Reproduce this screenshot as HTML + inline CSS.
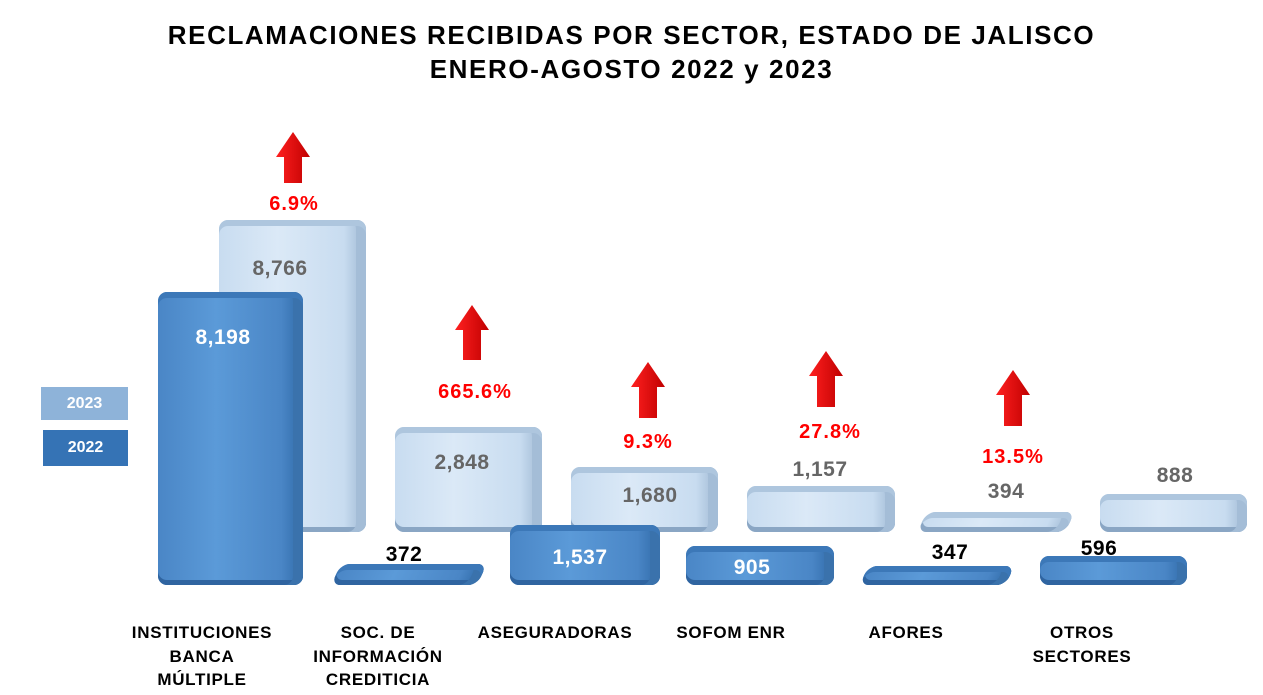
<!DOCTYPE html>
<html><head><meta charset="utf-8"><style>
body{margin:0;width:1263px;height:695px;background:#fff;position:relative;overflow:hidden;font-family:"Liberation Sans",sans-serif;font-weight:bold}
.t{position:absolute;left:0;width:1263px;text-align:center;font-size:26px;letter-spacing:1.6px;color:#000}
.b{position:absolute;border-radius:9px;box-sizing:border-box}
.d{background:linear-gradient(90deg,#4a86c6 0%,#5b9ad8 40%,#4a86c6 85%,#2f6aa8 100%);box-shadow:inset 0 6px 0 #3c78b8,inset -10px 0 0 #3a72ac,inset 0 -5px 0 #2f64a0}
.l{background:linear-gradient(90deg,#c8dcf0 0%,#dbe9f7 40%,#c8dcf0 85%,#9db7d2 100%);box-shadow:inset 0 6px 0 #aec6de,inset -10px 0 0 #a4bdd7,inset 0 -5px 0 #8aa6c4}
.v{position:absolute;font-size:21px;text-align:center;width:150px;letter-spacing:0.5px}
.p{position:absolute;font-size:20px;color:#f00;text-align:center;width:120px;letter-spacing:1px}
.c{position:absolute;font-size:17px;text-align:center;width:180px;line-height:23.5px;letter-spacing:0.7px}
.a{position:absolute}
</style></head><body>
<div class="t" style="top:20px">RECLAMACIONES RECIBIDAS POR SECTOR, ESTADO DE JALISCO</div>
<div class="t" style="top:54px">ENERO-AGOSTO 2022 y 2023</div>

<div style="position:absolute;left:41px;top:387px;width:87px;height:33px;background:#8eb3d9;color:#fff;font-size:16px;text-align:center;line-height:33px">2023</div>
<div style="position:absolute;left:43px;top:430px;width:85px;height:36px;background:#3573b5;color:#fff;font-size:16px;text-align:center;line-height:36px">2022</div>

<div class="b l" style="left:219px;top:220px;width:147px;height:312px"></div>
<div class="b l" style="left:395px;top:427px;width:147px;height:105px"></div>
<div class="b l" style="left:571px;top:467px;width:147px;height:65px"></div>
<div class="b l" style="left:747px;top:486px;width:148px;height:46px"></div>
<div class="b l" style="left:922px;top:512px;width:148px;height:20px;transform:skewX(-25deg)"></div>
<div class="b l" style="left:1100px;top:494px;width:147px;height:38px"></div>

<div class="b d" style="left:158px;top:292px;width:145px;height:293px"></div>
<div class="b d" style="left:336px;top:564px;width:146px;height:21px;transform:skewX(-25deg)"></div>
<div class="b d" style="left:510px;top:525px;width:150px;height:60px"></div>
<div class="b d" style="left:686px;top:546px;width:148px;height:39px"></div>
<div class="b d" style="left:864px;top:566px;width:146px;height:19px;transform:skewX(-25deg)"></div>
<div class="b d" style="left:1040px;top:556px;width:147px;height:29px"></div>

<div class="v" style="left:205px;top:257px;color:#666">8,766</div>
<div class="v" style="left:148px;top:326px;color:#fff">8,198</div>
<div class="v" style="left:387px;top:451px;color:#666">2,848</div>
<div class="v" style="left:329px;top:543px;color:#000">372</div>
<div class="v" style="left:575px;top:484px;color:#666">1,680</div>
<div class="v" style="left:505px;top:546px;color:#fff">1,537</div>
<div class="v" style="left:745px;top:458px;color:#666">1,157</div>
<div class="v" style="left:677px;top:556px;color:#fff">905</div>
<div class="v" style="left:931px;top:480px;color:#666">394</div>
<div class="v" style="left:875px;top:541px;color:#000">347</div>
<div class="v" style="left:1100px;top:464px;color:#666">888</div>
<div class="v" style="left:1024px;top:537px;color:#000">596</div>

<svg class="a" style="left:0;top:0" width="1263" height="695">
<defs><linearGradient id="r" x1="0" x2="1"><stop offset="0" stop-color="#ff2020"/><stop offset="1" stop-color="#c00000"/></linearGradient></defs>
<g fill="url(#r)">
<polygon points="276,157 293,132 310,157 302,157 302,183 284,183 284,157"/>
<polygon points="455,330 472,305 489,330 481,330 481,360 463,360 463,330"/>
<polygon points="631,387 648,362 665,387 657,387 657,418 639,418 639,387"/>
<polygon points="809,376 826,351 843,376 835,376 835,407 817,407 817,376"/>
<polygon points="996,395 1013,370 1030,395 1022,395 1022,426 1004,426 1004,395"/>
</g></svg>

<div class="p" style="left:234px;top:193px">6.9%</div>
<div class="p" style="left:415px;top:381px">665.6%</div>
<div class="p" style="left:588px;top:431px">9.3%</div>
<div class="p" style="left:770px;top:421px">27.8%</div>
<div class="p" style="left:953px;top:446px">13.5%</div>

<div class="c" style="left:112px;top:621px">INSTITUCIONES<br>BANCA<br>MÚLTIPLE</div>
<div class="c" style="left:288px;top:621px">SOC. DE<br>INFORMACIÓN<br>CREDITICIA</div>
<div class="c" style="left:465px;top:621px">ASEGURADORAS</div>
<div class="c" style="left:641px;top:621px">SOFOM ENR</div>
<div class="c" style="left:816px;top:621px">AFORES</div>
<div class="c" style="left:992px;top:621px">OTROS<br>SECTORES</div>
</body></html>
